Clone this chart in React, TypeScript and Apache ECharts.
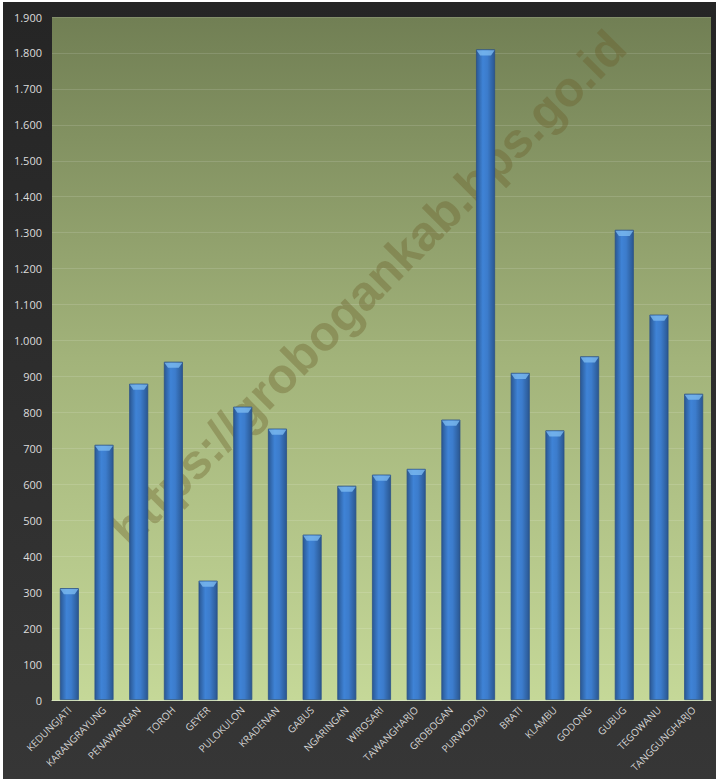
import React, { useEffect, useRef } from "react";
import * as echarts from "echarts";

const categories = [
  "KEDUNGJATI", "KARANGRAYUNG", "PENAWANGAN", "TOROH", "GEYER", "PULOKULON",
  "KRADENAN", "GABUS", "NGARINGAN", "WIROSARI", "TAWANGHARJO", "GROBOGAN",
  "PURWODADI", "BRATI", "KLAMBU", "GODONG", "GUBUG", "TEGOWANU", "TANGGUNGHARJO",
];
const values = [311, 710, 880, 941, 332, 816, 755, 460, 596, 627, 643, 780, 1810, 910, 750, 956, 1308, 1072, 852];
const yMin = 0;
const yMax = 1900;
const yInterval = 100;
const watermark = "https://grobogankab.bps.go.id";

const fmt = (v: number) => String(v).replace(/\B(?=(\d{3})+(?!\d))/g, ".");

export default function App() {
  const ref = useRef<HTMLDivElement>(null);
  useEffect(() => {
    if (!ref.current) return;
    const chart = echarts.init(ref.current, undefined, { renderer: "svg" });
    const barGrad = new echarts.graphic.LinearGradient(0, 0, 1, 0, [
      { offset: 0, color: "#2a5894" },
      { offset: 0.35, color: "#3f83d6" },
      { offset: 0.6, color: "#3c7ccc" },
      { offset: 1, color: "#2a5791" },
    ]);
    chart.setOption({
      animation: false,
      backgroundColor: new echarts.graphic.LinearGradient(0, 0, 0, 1, [
        { offset: 0, color: "#252525" },
        { offset: 1, color: "#363636" },
      ]),
      grid: {
        left: 49,
        right: 5,
        top: 15,
        bottom: 79,
        show: true,
        borderWidth: 0,
        z: 0,
        backgroundColor: new echarts.graphic.LinearGradient(0, 0, 0, 1, [
          { offset: 0, color: "#717f54" },
          { offset: 0.5, color: "#a2b37a" },
          { offset: 1, color: "#c5d898" },
        ]),
      },
      xAxis: {
        type: "category",
        data: categories,
        axisLine: { show: true, lineStyle: { color: "#d8e6bc", width: 1 } },
        axisTick: { show: false },
        axisLabel: {
          rotate: 45,
          interval: 0,
          color: "#d4d4d4",
          fontSize: 10,
          fontFamily: "Open Sans",
          margin: 8,
        },
      },
      yAxis: {
        type: "value",
        min: yMin,
        max: yMax,
        interval: yInterval,
        axisLine: { show: false },
        axisTick: { show: false },
        splitLine: { lineStyle: { color: "rgba(255,255,255,0.13)", width: 1 } },
        axisLabel: {
          color: "#dcdcdc",
          fontSize: 11,
          fontFamily: "Open Sans",
          margin: 10,
          formatter: (v: number) => fmt(v),
        },
      },
      series: [
        {
          type: "bar",
          data: values,
          barWidth: 19,
          itemStyle: { color: barGrad, borderColor: "#2b5089", borderWidth: 0.8 },
          z: 5,
        },
        {
          type: "pictorialBar",
          data: values,
          symbol: "path://M0,0 L20,0 L16,4 L4,4 Z",
          symbolSize: [18, 5],
          symbolPosition: "end",
          symbolOffset: [0, 1],
          itemStyle: { color: "#7cbaf0", opacity: 0.8 },
          z: 6,
          silent: true,
        },
      ],
      graphic: {
        elements: [
          {
            type: "text",
            x: 365,
            y: 286,
            rotation: Math.PI / 4,
            z: 1,
            silent: true,
            style: {
              text: watermark,
              font: "bold 49px 'Liberation Sans', Arial, sans-serif",
              fill: "rgba(105,92,40,0.36)",
              align: "center",
              verticalAlign: "middle",
            },
          },
        ],
      },
    });
    return () => chart.dispose();
  }, []);
  return (
    <div
      ref={ref}
      style={{ position: "absolute", left: 3, top: 2, width: 713, height: 777 }}
    />
  );
}
